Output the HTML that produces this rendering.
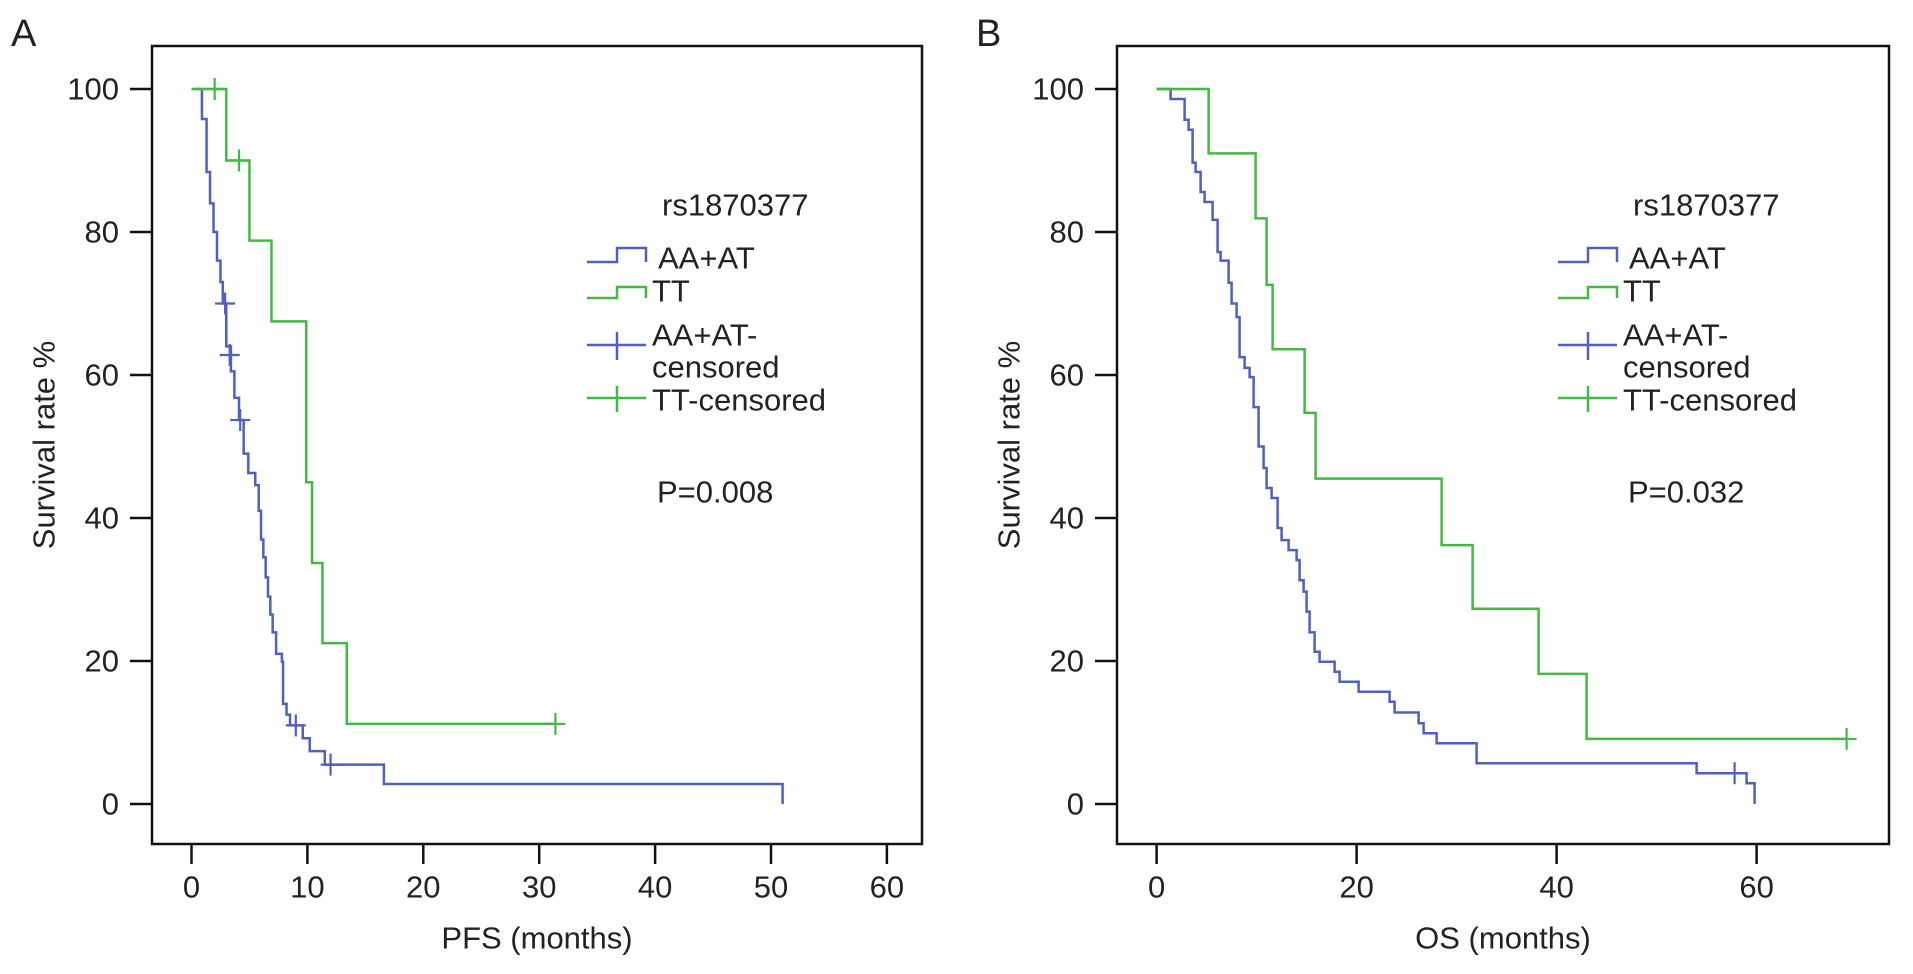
<!DOCTYPE html>
<html><head><meta charset="utf-8">
<style>
html,body{margin:0;padding:0;background:#fff;}
svg text{font-family:"Liberation Sans",Arial,sans-serif;fill:#222;}
</style></head>
<body>
<svg id="chart" width="1913" height="969" viewBox="0 0 1913 969" xmlns="http://www.w3.org/2000/svg"></svg>
<script>
// Panel A (PFS) data
const pfsTicksX = [0,10,20,30,40,50,60];
const ticksY = [0,20,40,60,80,100];
const pfsBlueTimes = [0.9,1.3,1.6,1.9,2.2,2.5,2.7,3.0,3.4,3.7,4.1,4.5,4.9,5.5,5.8,6.0,6.2,6.4,6.6,6.8,7.0,7.3,7.8,7.9,8.2,8.5,9.6,10.2,11.5,16.6,51.0];
const pfsBlueVals  = [95.8,88.4,84,80,76,73,70,64,60.5,56.8,53.7,49,46.3,44.6,41,37,34.5,31.7,29,26.5,24,21,19.9,14,12.5,11,9.2,7.4,5.5,2.8,0];
const pfsBlueStart = 0.3;
const pfsBlueCensorT = [2.9,3.3,4.2,9.0,12.0];
const pfsBlueCensorV = [70,62.8,53.7,11,5.5];
const pfsBlueEnd = 51.0;
const pfsGreenTimes = [3.0,5.0,6.9,9.9,10.4,11.3,13.4];
const pfsGreenVals  = [90,78.8,67.5,45,33.7,22.5,11.2];
const pfsGreenCensorT = [2.0,4.1,31.4];
const pfsGreenCensorV = [100,90,11.2];
const pfsGreenEnd = 31.4;
// Panel B (OS) data
const osTicksX = [0,20,40,60];
const osBlueTimes = [1.4,2.8,3.2,3.6,3.9,4.4,4.8,5.6,6.1,6.4,7.2,7.5,8.0,8.3,8.8,9.3,9.7,10.2,10.7,11.0,11.5,12.1,12.5,13.2,14.0,14.3,14.7,15.0,15.3,15.8,16.3,17.8,18.3,20.2,23.3,23.8,26.2,26.7,28.0,32.0,54.0,59.0,59.8];
const osBlueVals  = [98.6,95.7,94.3,89.7,88.4,85.6,84.2,81.7,77.2,76,72.9,70,68.1,62.5,61,59.7,55.5,50,47,44.2,42.8,38.6,36.9,35.5,34.1,31.3,29.7,26.9,24,21.3,19.9,18.5,17.1,15.7,14.3,12.8,11.3,9.9,8.5,5.7,4.3,2.9,0];
const osBlueCensorT = [57.8];
const osBlueCensorV = [4.3];
const osBlueEnd = 59.8;
const osGreenTimes = [5.2,9.9,11.0,11.6,14.8,15.9,28.5,31.6,38.2,43.0];
const osGreenVals  = [91,81.9,72.6,63.6,54.7,45.5,36.2,27.3,18.2,9.1];
const osGreenCensorT = [69.0];
const osGreenCensorV = [9.1];
const osGreenEnd = 69.0;

const NS="http://www.w3.org/2000/svg";
const svg=document.getElementById('chart');
const BLUE="#5060c0", GREEN="#44b844";
const FS=31;
function mk(tag,attrs,parent){const e=document.createElementNS(NS,tag);for(const k in attrs)e.setAttribute(k,attrs[k]);(parent||svg).appendChild(e);return e;}
function txt(x,y,s,size,anchor,parent){const t=mk('text',{x:x,y:y,'font-size':size,'text-anchor':anchor||'start','dominant-baseline':'central'},parent);t.textContent=s;return t;}

function panel(cfg){
  const g=mk('g',{});
  
  
  const X=t=>cfg.x0+t*cfg.sx, Y=v=>804-v*7.15;
  const box=mk('rect',{x:cfg.left,y:46,width:cfg.right-cfg.left,height:798,fill:'none',stroke:'#111','stroke-width':2.5},g);
  
  
  cfg.ticksX.forEach(t=>{
    const l=mk('line',{x1:X(t),x2:X(t),y1:845,y2:864,stroke:'#111','stroke-width':2.5},g);
    
    
    const s=txt(X(t),887,String(t),FS,'middle',g);
    
    
  });
  ticksY.forEach(v=>{
    const l=mk('line',{x1:cfg.left-22,x2:cfg.left,y1:Y(v),y2:Y(v),stroke:'#111','stroke-width':2.5},g);
    
    
    const s=txt(cfg.left-33,Y(v),String(v),FS,'end',g);
    
    
  });
  const xt=txt((cfg.left+cfg.right)/2,938,cfg.xtitle,FS,'middle',g);
  
  
  const yt=txt(0,0,'Survival rate %',FS,'middle',g);
  yt.setAttribute('transform','translate('+(cfg.left-108)+',445) rotate(-90)');
  
  
  const lab=txt(cfg.left-141,34,cfg.letter,38,'start',g);
  
  
  function curve(start,times,vals,end,color,nm){
    let d='M'+X(start)+','+Y(100);
    times.forEach((t,i)=>{d+=' H'+X(t)+' V'+Y(vals[i]);});
    if(end>times[times.length-1])d+=' H'+X(end);
    const p=mk('path',{d:d,fill:'none',stroke:color,'stroke-width':2.5},g);
    
    
  }
  function censors(ts,vs,color,nm){
    ts.forEach((t,i)=>{
      const p=mk('path',{d:'M'+(X(t)-10)+','+Y(vs[i])+' H'+(X(t)+10)+' M'+X(t)+','+(Y(vs[i])-11)+' V'+(Y(vs[i])+11),stroke:color,'stroke-width':2.2,fill:'none'},g);
      
      
    });
  }
  curve(cfg.blueStart,cfg.blueT,cfg.blueV,cfg.blueEnd,BLUE,'aa-at-curve');
  curve(0,cfg.greenT,cfg.greenV,cfg.greenEnd,GREEN,'tt-curve');
  censors(cfg.bcT,cfg.bcV,BLUE,'aa-at-censor-mark');
  censors(cfg.gcT,cfg.gcV,GREEN,'tt-censor-mark');
  // legend
  const L=cfg.legX, T=L+65;
  const lg=mk('g',{},g);
  
  
  txt(T+10,205,'rs1870377',FS,'start',lg);
  mk('path',{d:'M'+L+',262 H'+(L+30)+' V248 H'+(L+59)+' V262',fill:'none',stroke:BLUE,'stroke-width':2.5},lg);
  txt(T+6,258,'AA+AT',FS,'start',lg);
  mk('path',{d:'M'+L+',298 H'+(L+30)+' V287 H'+(L+59)+' V298',fill:'none',stroke:GREEN,'stroke-width':2.5},lg);
  txt(T,291,'TT',FS,'start',lg);
  mk('path',{d:'M'+L+',345 H'+(L+59)+' M'+(L+30)+',332 V360',fill:'none',stroke:BLUE,'stroke-width':2.5},lg);
  txt(T,335,'AA+AT-',FS,'start',lg);
  txt(T,367,'censored',FS,'start',lg);
  mk('path',{d:'M'+L+',398 H'+(L+59)+' M'+(L+30)+',386 V412',fill:'none',stroke:GREEN,'stroke-width':2.5},lg);
  txt(T,400,'TT-censored',FS,'start',lg);
  const pv=txt(T+5,492,cfg.p,FS,'start',g);
  
  
}
panel({name:'panel-a-pfs',letter:'A',left:152,right:922,x0:191.5,sx:11.59,ticksX:pfsTicksX,xtitle:'PFS (months)',
  blueStart:pfsBlueStart,blueT:pfsBlueTimes,blueV:pfsBlueVals,blueEnd:pfsBlueEnd,
  greenT:pfsGreenTimes,greenV:pfsGreenVals,greenEnd:pfsGreenEnd,
  bcT:pfsBlueCensorT,bcV:pfsBlueCensorV,gcT:pfsGreenCensorT,gcV:pfsGreenCensorV,legX:587,p:'P=0.008'});
panel({name:'panel-b-os',letter:'B',left:1117,right:1889,x0:1156.6,sx:10.0,ticksX:osTicksX,xtitle:'OS (months)',
  blueStart:0,blueT:osBlueTimes,blueV:osBlueVals,blueEnd:osBlueEnd,
  greenT:osGreenTimes,greenV:osGreenVals,greenEnd:osGreenEnd,
  bcT:osBlueCensorT,bcV:osBlueCensorV,gcT:osGreenCensorT,gcV:osGreenCensorV,legX:1558,p:'P=0.032'});
</script>
</body></html>
